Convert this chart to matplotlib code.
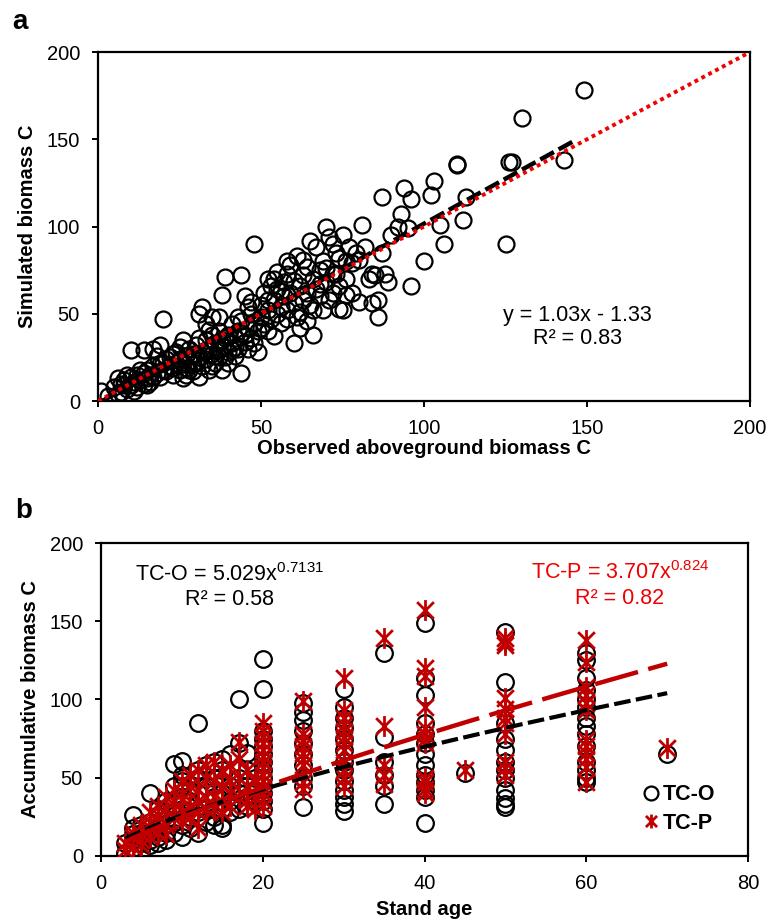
# -*- coding: utf-8 -*-
"""Biomass C: simulated vs observed (a) and accumulation with stand age (b)."""
import numpy as np
import matplotlib.pyplot as plt
from matplotlib.path import Path

plt.rcParams['font.family'] = ['Liberation Sans', 'DejaVu Sans']

# ---- panel a : observed vs simulated aboveground biomass C
obs_a = [1, 3, 5, 6, 7, 7, 8, 9, 10, 10,
         11, 12, 12, 13, 14, 14, 15, 15, 16, 16,
         10, 14, 17, 19, 17, 18, 19, 20, 20, 21,
         22, 22, 23, 23, 24, 24, 25, 25, 26, 26,
         27, 27, 28, 28, 29, 29, 30, 30, 31, 31,
         32, 32, 33, 33, 34, 34, 35, 35, 36, 36,
         37, 37, 38, 38, 39, 39, 40, 40, 41, 41,
         42, 42, 43, 43, 44, 44, 45, 45, 46, 46,
         20, 32, 31, 35, 37, 38, 39, 44, 45, 33,
         47, 47, 48, 48, 49, 49, 50, 50, 51, 51,
         52, 52, 53, 53, 54, 54, 55, 55, 56, 56,
         57, 57, 58, 58, 59, 59, 60, 60, 61, 61,
         62, 62, 63, 63, 64, 64, 65, 65, 66, 66,
         67, 67, 68, 68, 69, 69, 70, 70, 71, 71,
         72, 72, 73, 73, 74, 74, 75, 75, 76, 76,
         77, 78, 79, 80, 80, 81, 82, 83, 84, 84,
         85, 86, 86, 87, 87, 88, 89, 90, 92, 93,
         94, 95, 96, 96, 100, 102, 103, 105, 106, 110,
         110, 112, 113, 125, 126, 127, 130, 143, 149, 18,
         6, 8, 9, 11, 13, 15, 17, 19, 21, 23,
         25, 27, 29, 31, 33, 35, 37, 39, 41, 43,
         26, 28, 30, 34, 36, 40, 42, 44, 46, 48,
         50, 52, 54, 56, 58, 60, 62, 64, 66, 68,
         70, 72, 74, 76, 78, 52, 55, 58, 63, 47]
sim_a = [6, 3, 8, 4, 5, 10, 12, 7, 9, 14,
         11, 8, 15, 12, 10, 16, 13, 18, 11, 15,
         29, 29, 30, 32, 20, 16, 14, 18, 22, 17,
         20, 25, 15, 19, 22, 28, 18, 24, 21, 13,
         26, 19, 23, 30, 17, 27, 22, 32, 25, 14,
         28, 20, 35, 24, 30, 18, 27, 38, 33, 22,
         29, 40, 18, 35, 31, 25, 38, 28, 33, 44,
         36, 26, 40, 30, 16, 46, 38, 34, 42, 30,
         47, 54, 50, 48, 48, 61, 71, 72, 60, 44,
         50, 36, 45, 90, 28, 40, 55, 48, 44, 62,
         52, 40, 66, 47, 58, 70, 50, 64, 54, 45,
         60, 68, 73, 52, 78, 62, 33, 56, 83, 48,
         66, 51, 58, 72, 46, 62, 92, 55, 38, 70,
         88, 64, 75, 60, 80, 52, 100, 68, 94, 58,
         90, 73, 73, 85, 66, 53, 52, 95, 80, 70,
         88, 62, 85, 57, 81, 101, 88, 70, 73, 56,
         72, 58, 48, 85, 117, 73, 68, 95, 100, 107,
         122, 99, 116, 66, 80, 118, 126, 101, 90, 135,
         136, 104, 117, 90, 137, 137, 162, 138, 178, 26,
         13, 9, 15, 6, 18, 9, 14, 21, 24, 27,
         31, 15, 21, 36, 29, 20, 25, 36, 29, 48,
         35, 18, 27, 41, 26, 22, 31, 39, 54, 33,
         42, 58, 37, 63, 47, 69, 42, 77, 52, 67,
         76, 62, 82, 61, 79, 70, 74, 80, 81, 57]
fit_a = (1.03, -1.33)

# ---- panel b : accumulative biomass C vs stand age
age_o = [3, 3, 4, 4, 4, 4, 4, 5, 5, 5, 5, 5, 6, 6, 6, 6, 6,
         7, 7, 7, 7, 7, 8, 8, 8, 8, 8, 9, 9, 9, 9, 9, 9,
         10, 10, 10, 10, 10, 10, 10, 10, 11, 11, 11, 11,
         12, 12, 12, 12, 12, 12, 13, 13, 13, 13, 14, 14, 14, 14, 14,
         15, 15, 15, 15, 15, 15, 16, 16, 16, 16, 17, 17, 17, 17, 17,
         18, 18, 18, 18, 18, 19, 19, 19,
         20, 20, 20, 20, 20, 20, 20, 20, 20, 20, 20, 20, 20, 20,
         25, 25, 25, 25, 25, 25, 25, 25, 25, 25,
         30, 30, 30, 30, 30, 30, 30, 30, 30, 30, 30, 30, 30,
         35, 35, 35, 35, 35, 35,
         40, 40, 40, 40, 40, 40, 40, 40, 40, 40, 40, 40, 40,
         45,
         50, 50, 50, 50, 50, 50, 50, 50, 50, 50, 50, 50,
         60, 60, 60, 60, 60, 60, 60, 60, 60, 60, 60, 60, 60, 60,
         70]
tc_o = [2, 8, 26, 18, 5, 10, 14, 8, 12, 20, 15, 4, 40, 10, 22, 15, 7,
        12, 25, 18, 30, 8, 35, 20, 15, 28, 10, 59, 28, 22, 33, 15, 45,
        61, 52, 48, 45, 30, 20, 38, 12, 35, 25, 42, 18,
        85, 55, 40, 28, 15, 50, 45, 30, 22, 58, 60, 38, 25, 50, 20,
        55, 40, 30, 18, 20, 62, 65, 45, 35, 28, 100, 72, 50, 40, 30,
        66, 45, 32, 55, 38, 50, 35, 42,
        126, 107, 80, 75, 70, 65, 60, 55, 50, 45, 40, 35, 30, 21,
        98, 92, 87, 80, 72, 65, 58, 50, 45, 31,
        107, 95, 88, 82, 75, 68, 60, 55, 48, 42, 38, 33, 29,
        130, 76, 60, 52, 45, 33,
        149, 114, 103, 85, 78, 72, 65, 58, 52, 47, 42, 38, 21,
        53,
        143, 111, 85, 75, 68, 60, 55, 50, 42, 37, 33, 31,
        130, 125, 114, 106, 100, 95, 88, 83, 78, 70, 60, 55, 50, 47,
        65]
age_p = [3, 3, 4, 4, 4, 5, 5, 5, 5, 6, 6, 6, 6, 7, 7, 7, 7,
         8, 8, 8, 8, 9, 9, 9, 9, 10, 10, 10, 10, 10,
         11, 11, 11, 11, 12, 12, 12, 12, 12, 13, 13, 13, 13,
         14, 14, 14, 14, 15, 15, 15, 15, 16, 16, 16, 16,
         17, 17, 17, 17, 18, 18, 18, 18, 19, 19, 19,
         20, 20, 20, 20, 20, 20, 20, 20, 20, 20, 20, 20, 20, 20,
         25, 25, 25, 25, 25, 25, 25, 25, 25,
         30, 30, 30, 30, 30, 30, 30, 30, 30, 30, 30, 30,
         35, 35, 35, 35, 35,
         40, 40, 40, 40, 40, 40, 40, 40, 40, 40, 40, 40,
         45,
         50, 50, 50, 50, 50, 50, 50, 50, 50, 50, 50,
         60, 60, 60, 60, 60, 60, 60, 60, 60, 60, 60, 60,
         70]
tc_p = [8, 4, 12, 6, 15, 20, 10, 14, 7, 28, 18, 12, 22, 32, 22, 15, 26,
        30, 20, 38, 14, 42, 30, 24, 35, 48, 36, 28, 40, 22,
        45, 32, 25, 52, 55, 42, 35, 28, 18, 50, 38, 30, 58,
        60, 48, 38, 30, 55, 45, 35, 28, 58, 48, 40, 32,
        73, 62, 50, 38, 55, 45, 36, 32, 48, 38, 30,
        85, 80, 76, 72, 68, 64, 60, 56, 52, 48, 44, 40, 36, 32,
        99, 78, 74, 70, 66, 62, 58, 47, 43,
        114, 93, 88, 84, 80, 76, 72, 68, 60, 55, 50, 45,
        139, 83, 58, 52, 46,
        157, 120, 115, 95, 82, 78, 75, 72, 50, 47, 43, 40,
        55,
        139, 137, 135, 101, 94, 88, 85, 78, 60, 56, 52,
        138, 124, 108, 103, 98, 93, 74, 70, 66, 62, 57, 47,
        69]
fit_o = (5.029, 0.7131)
fit_p = (3.707, 0.824)

RED = '#f00000'
DARKRED = '#c00000'
FS = 14.5

# Excel-like star marker: an x with a vertical bar through it
star = Path([(-1, -1), (1, 1), (-1, 1), (1, -1), (0, -1.25), (0, 1.25)],
            [Path.MOVETO, Path.LINETO, Path.MOVETO, Path.LINETO,
             Path.MOVETO, Path.LINETO])


def style_axes(ax):
    """box, outward ticks, tick label size."""
    for sp in ax.spines.values():
        sp.set_linewidth(1.6)
        sp.set_color('black')
    ax.tick_params(direction='out', length=4, width=1.4, labelsize=FS,
                   top=False, right=False, pad=9)


fig = plt.figure(figsize=(7.79, 9.23), dpi=100)

# ---------------- panel a
ax1 = fig.add_axes([0.1258, 0.5655, 0.837, 0.3781])
ax1.plot(obs_a, sim_a, 'o', ms=11.5, mfc='none', mec='black', mew=1.6,
         zorder=2)
xx = np.array([min(obs_a), 146])
ax1.plot(xx, fit_a[0] * xx + fit_a[1], color='black', lw=3.2,
         dashes=(3.5, 1.2), zorder=3)
ax1.plot([0, 200], [0, 200], color=RED, lw=2.8, dashes=(1, 1), zorder=4)
ax1.set_xlim(0, 200)
ax1.set_ylim(0, 200)
ax1.set_xticks([0, 50, 100, 150, 200])
ax1.set_yticks([0, 50, 100, 150, 200])
style_axes(ax1)
ax1.set_xlabel('Observed aboveground biomass C', fontsize=FS,
               fontweight='bold', labelpad=1)
ax1.set_ylabel('Simulated biomass C', fontsize=FS, fontweight='bold',
               labelpad=7)
ax1.text(0.735, 0.246, 'y = 1.03x - 1.33', transform=ax1.transAxes,
         ha='center', va='center', fontsize=15.5)
ax1.text(0.735, 0.18, 'R² = 0.83', transform=ax1.transAxes,
         ha='center', va='center', fontsize=15.5)
fig.text(0.016, 0.976, 'a', fontsize=20, fontweight='bold', va='center')

# ---------------- panel b
ax2 = fig.add_axes([0.1297, 0.0726, 0.8306, 0.3391])
ax2.plot(age_o, tc_o, 'o', ms=12, mfc='none', mec='black', mew=1.6,
         zorder=2, label='TC-O')
ax2.plot(age_p, tc_p, ls='none', marker=star, ms=15, mec=DARKRED,
         mew=2, zorder=3, label='TC-P')
xa = np.linspace(3, 70, 200)
ax2.plot(xa, fit_o[0] * xa ** fit_o[1], color='black', lw=3,
         dashes=(4, 1.3), zorder=4)
ax2.plot(xa, fit_p[0] * xa ** fit_p[1], color=DARKRED, lw=3.2,
         dashes=(10, 2.4), zorder=5)
ax2.set_xlim(0, 80)
ax2.set_ylim(0, 200)
ax2.set_xticks([0, 20, 40, 60, 80])
ax2.set_yticks([0, 50, 100, 150, 200])
style_axes(ax2)
ax2.set_xlabel('Stand age', fontsize=FS, fontweight='bold', labelpad=5)
ax2.set_ylabel('Accumulative biomass C', fontsize=FS, fontweight='bold',
               labelpad=7)
ax2.text(0.199, 0.898, r'TC-O = 5.029x$\mathregular{^{0.7131}}$',
         transform=ax2.transAxes, ha='center', va='center', fontsize=15.5)
ax2.text(0.199, 0.818, 'R² = 0.58', transform=ax2.transAxes, ha='center',
         va='center', fontsize=15.5)
ax2.text(0.802, 0.904, r'TC-P = 3.707x$\mathregular{^{0.824}}$', color=RED,
         transform=ax2.transAxes, ha='center', va='center', fontsize=15.5)
ax2.text(0.802, 0.824, 'R² = 0.82', color=RED, transform=ax2.transAxes,
         ha='center', va='center', fontsize=15.5)
leg = ax2.legend(loc='center left', bbox_to_anchor=(0.81, 0.15),
                 frameon=False, handlelength=0.6, handletextpad=0.25,
                 labelspacing=0.35,
                 prop={'size': 15.5, 'weight': 'bold'})
for h in leg.legend_handles:
    h.set_markersize(10)
fig.text(0.02, 0.446, 'b', fontsize=20, fontweight='bold', va='center')

fig.savefig('out.png', dpi=100)
